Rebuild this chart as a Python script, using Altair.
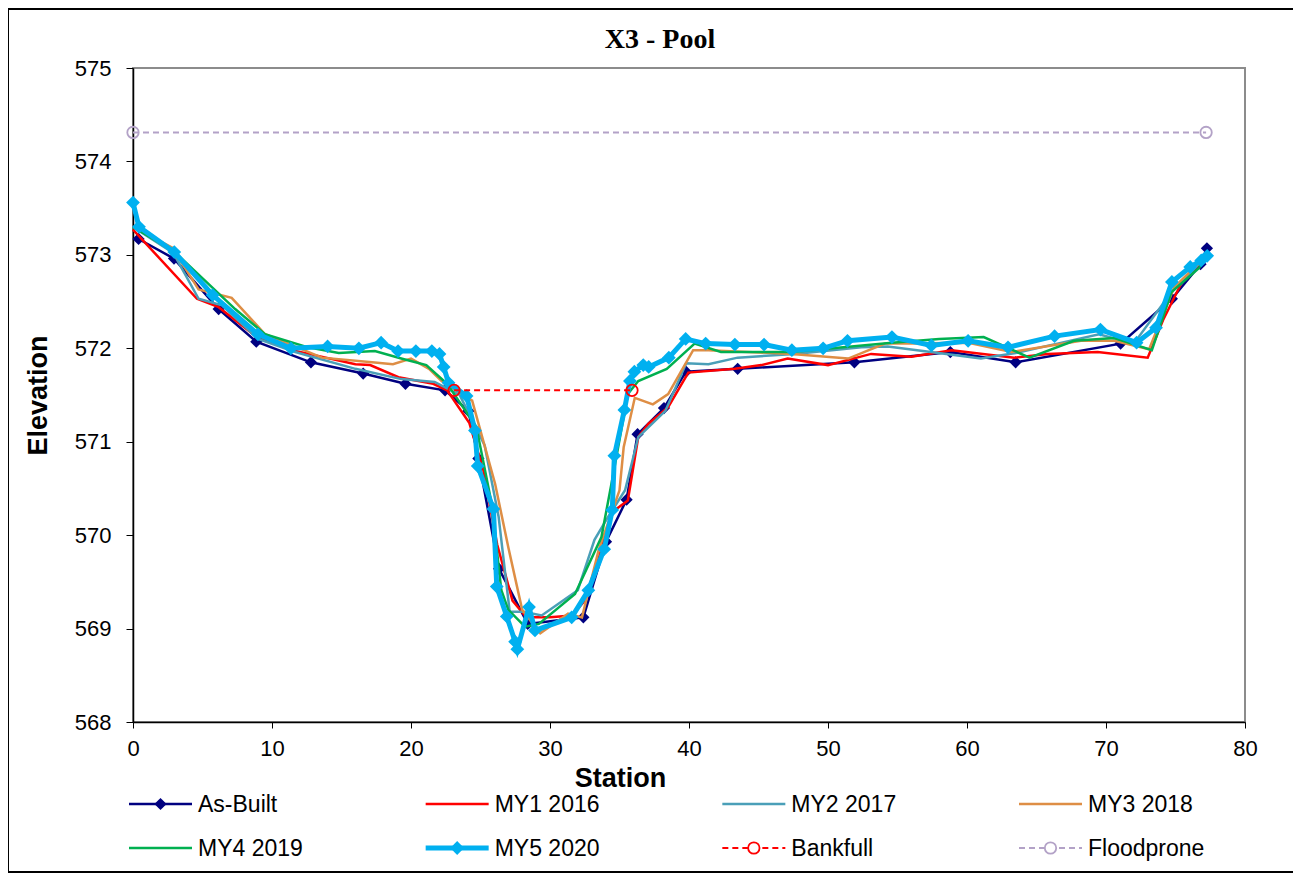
import altair as alt
import pandas as pd

# ---------------- data ----------------
ab_station = [0.4, 2.95, 6.16, 8.87, 12.8, 16.56, 19.6, 22.45, 24.13, 24.85, 26.33, 28.4,
              32.4, 34.03, 35.51, 36.3, 38.2, 39.78, 43.5, 51.9, 58.8, 63.5, 71.05, 74.74, 76.8, 77.26]
ab_elev = [573.17, 572.96, 572.42, 572.07, 571.85, 571.73, 571.62, 571.55, 571.33, 570.82, 569.64, 569.05,
           569.12, 569.93, 570.38, 571.08, 571.36, 571.75, 571.78, 571.85, 571.96, 571.85, 572.05, 572.53, 572.9, 573.07]

my1_station = [0, 4.6, 6.16, 8.9, 11.43, 16.0, 17.06, 19.1, 21.6, 22.6, 24.2, 25.2, 26.2, 27.3, 28.3, 30.0,
               31.6, 32.5, 33.6, 34.5, 35.6, 36.35, 37.07, 38.5, 39.95, 43.3, 45.2, 47.1, 50.0, 53.1, 56.0,
               58.9, 63.4, 65.8, 69.4, 73.0, 74.1, 75.5, 76.7, 77.0]
my1_elev = [573.27, 572.53, 572.44, 572.12, 571.98, 571.83, 571.82, 571.69, 571.62, 571.55, 571.2, 570.7,
            569.9, 569.3, 569.12, 569.12, 569.14, 569.3, 569.8, 570.25, 570.37, 571.05, 571.19, 571.37,
            571.74, 571.78, 571.82, 571.89, 571.82, 571.94, 571.91, 571.98, 571.9, 571.94, 571.96, 571.9,
            572.3, 572.72, 572.9, 572.93]

my2_station = [0, 2.9, 4.72, 6.4, 9.0, 11.67, 16.0, 19.3, 21.7, 23.5, 25.3, 26.3, 27.1, 28.1, 29.4, 32.0,
               33.2, 34.2, 35.4, 36.35, 38.3, 39.8, 41.4, 43.5, 47.6, 52.4, 54.3, 57.4, 61.0, 63.5, 66.5,
               69.5, 72.0, 74.7, 77.0]
my2_elev = [573.3, 573.02, 572.53, 572.46, 572.1, 571.96, 571.78, 571.67, 571.64, 571.5, 570.96, 570.2,
            569.18, 569.18, 569.14, 569.41, 569.95, 570.2, 570.48, 571.05, 571.33, 571.84, 571.83, 571.9,
            571.94, 572.01, 572.02, 571.96, 571.89, 571.95, 572.05, 572.15, 572.05, 572.6, 572.95]

my3_station = [0, 2.8, 4.72, 7.1, 9.5, 13.6, 17.2, 18.7, 20.0, 21.3, 22.2, 24.4, 26.05, 27.0, 28.0, 29.3,
               31.3, 32.3, 33.5, 35.0, 35.3, 36.1, 37.4, 38.5, 40.3, 41.4, 47.4, 51.45, 54.1, 56.0, 60.1,
               63.2, 68.2, 70.6, 73.1, 74.9, 76.8, 77.1]
my3_elev = [573.3, 573.08, 572.63, 572.54, 572.15, 571.9, 571.85, 571.83, 571.89, 571.78, 571.65, 571.44,
            570.55, 569.87, 569.2, 568.95, 569.16, 569.12, 569.84, 570.48, 570.94, 571.47, 571.4, 571.51,
            571.98, 571.98, 571.94, 571.89, 572.05, 572.05, 572.06, 571.96, 572.08, 572.08, 571.99, 572.65,
            572.93, 572.97]

my4_station = [0, 3.0, 7.35, 9.5, 12.6, 14.8, 17.4, 19.3, 21.1, 22.6, 24.7, 25.8, 26.5, 27.0, 28.2, 29.2,
               31.8, 33.7, 34.56, 35.6, 36.35, 38.4, 40.4, 42.3, 47.4, 54.6, 58.0, 61.2, 64.5, 67.7, 70.6,
               73.3, 74.7, 76.7, 77.1]
my4_elev = [573.3, 573.03, 572.42, 572.15, 572.01, 571.95, 571.97, 571.89, 571.82, 571.62, 571.16, 570.34,
            569.41, 569.2, 569.02, 569.05, 569.37, 569.98, 570.66, 571.51, 571.65, 571.78, 572.05, 571.96,
            571.96, 572.06, 572.1, 572.12, 571.9, 572.08, 572.11, 571.98, 572.6, 572.86, 572.95]

my5_station = [0, 0.43, 2.97, 5.73, 8.99, 11.36, 14.0, 16.25, 17.85, 19.07, 20.35, 21.5, 22.05, 22.35, 22.7,
               24.0, 24.6, 24.8, 25.93, 26.17, 26.89, 27.49, 27.65, 28.49, 28.92, 31.56, 32.76, 33.9, 34.48,
               34.63, 35.35, 35.75, 36.07, 36.71, 37.1, 38.55, 39.76, 41.2, 43.3, 45.4, 47.4, 49.65, 51.4,
               54.6, 57.44, 60.08, 62.95, 66.3, 69.6, 72.2, 73.6, 74.74, 76.06, 76.85, 77.28]
my5_elev = [573.56, 573.3, 573.03, 572.57, 572.15, 572.0, 572.02, 572.0, 572.06, 571.97, 571.97, 571.97,
            571.94, 571.8, 571.63, 571.49, 571.12, 570.74, 570.28, 569.45, 569.13, 568.86, 568.78, 569.23,
            568.98, 569.12, 569.41, 569.85, 570.27, 570.85, 571.34, 571.65, 571.75, 571.82, 571.8, 571.9,
            572.1, 572.05, 572.04, 572.04, 571.98, 572.0, 572.08, 572.12, 572.03, 572.08, 572.01, 572.13,
            572.2, 572.06, 572.22, 572.71, 572.87, 572.94, 572.99]

bank_station = [23.1, 35.9]
bank_elev = [571.55, 571.55]

flood_station = [0, 77.2]
flood_elev = [574.31, 574.31]

series_names = ["As-Built", "MY1 2016", "MY2 2017", "MY3 2018", "MY4 2019", "MY5 2020", "Bankfull", "Floodprone"]
legend_col = [0, 1, 2, 3, 0, 1, 2, 3]
legend_row = [0, 0, 0, 0, 1, 1, 1, 1]

x_ticks = [0, 10, 20, 30, 40, 50, 60, 70, 80]
y_ticks = [568, 569, 570, 571, 572, 573, 574, 575]

chart_title = "X3 - Pool"

# ---------------- styles ----------------
styles = {
    "As-Built":   dict(color="#000080", width=2.5, dash=None, shape="diamond", filled=True, size=150),
    "MY1 2016":   dict(color="#FF0000", width=2.5, dash=None, shape=None),
    "MY2 2017":   dict(color="#4A9FB8", width=2.5, dash=None, shape=None),
    "MY3 2018":   dict(color="#DE8E45", width=2.5, dash=None, shape=None),
    "MY4 2019":   dict(color="#00B050", width=2.5, dash=None, shape=None),
    "MY5 2020":   dict(color="#00B0F0", width=5, dash=None, shape="diamond", filled=True, size=190),
    "Bankfull":   dict(color="#FF0000", width=2, dash=[6, 4], shape="circle", filled=False, size=130),
    "Floodprone": dict(color="#B3A2C7", width=2, dash=[6, 4], shape="circle", filled=False, size=130),
}
series_data = {
    "As-Built": (ab_station, ab_elev),
    "MY1 2016": (my1_station, my1_elev),
    "MY2 2017": (my2_station, my2_elev),
    "MY3 2018": (my3_station, my3_elev),
    "MY4 2019": (my4_station, my4_elev),
    "MY5 2020": (my5_station, my5_elev),
    "Bankfull": (bank_station, bank_elev),
    "Floodprone": (flood_station, flood_elev),
}

FONT = "Liberation Sans"
W, H = 1112, 654

x_enc = alt.X("Station:Q",
              scale=alt.Scale(domain=[0, 80], nice=False, zero=False),
              axis=alt.Axis(values=x_ticks, title="Station", titleFont=FONT, titleFontSize=27,
                            titleFontWeight="bold", titleColor="black", titleX=487, titlePadding=6,
                            labelFont=FONT, labelFontSize=22, labelColor="black", labelPadding=10,
                            tickSize=6, tickColor="black", domainColor="black", domainWidth=1.5,
                            grid=False, labelFlush=False))
y_enc = alt.Y("Elevation:Q",
              scale=alt.Scale(domain=[568, 575], nice=False, zero=False),
              axis=alt.Axis(values=y_ticks, format="d", title="Elevation", titleFont=FONT,
                            titleFontSize=27, titleFontWeight="bold", titleColor="black", titlePadding=22,
                            labelFont=FONT, labelFontSize=22, labelColor="black", labelPadding=15,
                            tickSize=7, tickColor="black", domainColor="black", domainWidth=1.5,
                            grid=False))

main_layers = []
for name in series_names:
    st = styles[name]
    xs, ys = series_data[name]
    df = pd.DataFrame({"Station": xs, "Elevation": ys, "order": list(range(len(xs)))})
    line_kw = dict(color=st["color"], strokeWidth=st["width"])
    if st["dash"]:
        line_kw["strokeDash"] = st["dash"]
    main_layers.append(alt.Chart(df).mark_line(**line_kw).encode(x=x_enc, y=y_enc, order="order:Q"))
    if st["shape"]:
        pk = dict(shape=st["shape"], size=st["size"], opacity=1)
        if st["filled"]:
            pk.update(filled=True, fill=st["color"], strokeWidth=0)
        else:
            pk.update(filled=False, stroke=st["color"], strokeWidth=1.8, fill="white", fillOpacity=0)
        main_layers.append(alt.Chart(df).mark_point(**pk).encode(x=x_enc, y=y_enc))

main = alt.layer(*main_layers)

# ---------------- legend (built from the series list) ----------------
lx = alt.X("col:Q", scale=alt.Scale(domain=[0, 3], range=[-4, 886], nice=False, zero=False), axis=None)
ly = alt.Y("row:Q", scale=alt.Scale(domain=[0, 1], range=[736, 780], nice=False, zero=False), axis=None)
lx2 = alt.X2("col:Q")

legend_layers = []
for name, c, r in zip(series_names, legend_col, legend_row):
    st = styles[name]
    ldf = pd.DataFrame({"col": [c], "row": [r], "label": [name]})
    rk = dict(color=st["color"], strokeWidth=st["width"], x2Offset=63)
    if st["dash"]:
        rk["strokeDash"] = st["dash"]
    legend_layers.append(alt.Chart(ldf).mark_rule(**rk).encode(x=lx, x2=lx2, y=ly))
    if st["shape"]:
        pk = dict(shape=st["shape"], size=st["size"], opacity=1, xOffset=31.5)
        if st["filled"]:
            pk.update(filled=True, fill=st["color"], strokeWidth=0)
        else:
            pk.update(filled=False, stroke=st["color"], strokeWidth=1.8, fill="white", fillOpacity=1)
        legend_layers.append(alt.Chart(ldf).mark_point(**pk).encode(x=lx, y=ly))
    legend_layers.append(alt.Chart(ldf).mark_text(align="left", baseline="middle", dx=69, dy=1,
                                                  font=FONT, fontSize=23, color="black")
                         .encode(x=lx, y=ly, text="label:N"))

legend = alt.layer(*legend_layers)

# chart title (centered on the chart area, as in the reference) and outer border
title_df = pd.DataFrame({"t": [chart_title]})
title = alt.Chart(title_df).mark_text(font="Liberation Serif", fontSize=28, fontWeight="bold",
                                      color="black", align="center", baseline="middle").encode(
    x=alt.value(527), y=alt.value(-28), text="t:N")

frame = alt.Chart(pd.DataFrame({"k": [0]})).mark_rect(fill=None, stroke="black", strokeWidth=2).encode(
    x=alt.value(-125), x2=alt.value(1167), y=alt.value(-59), y2=alt.value(804))

chart = alt.layer(main, legend, title, frame).resolve_scale(x="independent", y="independent").properties(
    width=W, height=H,
    autosize=alt.AutoSizeParams(type="none"),
    padding={"left": 125, "top": 60, "right": 48, "bottom": 151},
    background="white",
).configure_view(stroke="#8C8C8C", strokeWidth=2)

chart.save("out.html", embed_options={"renderer": "svg", "actions": False})
